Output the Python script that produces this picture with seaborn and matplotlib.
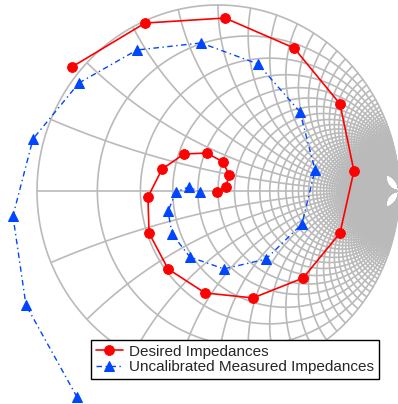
import numpy as np
import pandas as pd
import matplotlib
matplotlib.use('Agg')
import matplotlib.pyplot as plt
import seaborn as sns

desired_re = [-0.807, -0.403, 0.039, 0.420, 0.674, 0.751, 0.674, 0.470, 0.193, -0.072,
              -0.276, -0.381, -0.387, -0.309, -0.188, -0.061, 0.028, 0.061, 0.044, -0.006]
desired_im = [0.667, 0.903, 0.930, 0.769, 0.468, 0.108, -0.226, -0.468, -0.575, -0.548,
              -0.419, -0.226, -0.032, 0.118, 0.199, 0.204, 0.156, 0.086, 0.022, -0.005]

measured_re = [-0.779, -1.061, -1.133, -1.022, -0.768, -0.448, -0.094, 0.221, 0.453, 0.536,
               0.464, 0.265, 0.033, -0.155, -0.254, -0.276, -0.232, -0.160, -0.099]
measured_im = [-1.108, -0.613, -0.134, 0.280, 0.581, 0.758, 0.796, 0.683, 0.425, 0.113,
               -0.177, -0.366, -0.419, -0.355, -0.231, -0.108, -0.005, 0.022, -0.005]

labels = ['Desired Impedances', 'Uncalibrated Measured Impedances']

# smith grid values (normalized resistance / reactance)
grid_r = np.round(np.arange(0.2, 10.01, 0.2), 2)
grid_x = np.round(np.arange(0.2, 14.01, 0.2), 2)

sns.set_style('white')
plt.rcParams['font.family'] = ['Liberation Sans', 'DejaVu Sans']

fig = plt.figure(figsize=(3.98, 4.04), dpi=100)
ax = fig.add_axes([0, 0, 1, 1])

gc = '#bababa'
glw = 1.2

def gamma(z):
    return (z - 1) / (z + 1)

# outer circle and real axis
t = np.linspace(0, 2 * np.pi, 400)
ax.plot(np.cos(t), np.sin(t), color=gc, lw=glw, zorder=1)
ax.plot([-1, 1], [0, 0], color=gc, lw=glw, zorder=1)

# constant resistance circles
for r in grid_r:
    g = gamma(r + 1j * np.concatenate([[-1e6], np.sinh(np.linspace(-12, 12, 800)), [1e6]]))
    ax.plot(g.real, g.imag, color=gc, lw=glw, zorder=1)

# constant reactance arcs
s = np.concatenate([np.sinh(np.linspace(0, 12, 800)), [1e6]])
for x in grid_x:
    for sign in (1, -1):
        g = gamma(s + 1j * sign * x)
        ax.plot(g.real, g.imag, color=gc, lw=glw, zorder=1)

df1 = pd.DataFrame({'re': desired_re, 'im': desired_im})
df2 = pd.DataFrame({'re': measured_re, 'im': measured_im})

sns.lineplot(data=df1, x='re', y='im', sort=False, estimator=None, ax=ax, color='#ff0000', lw=1.2,
             marker='o', markersize=7, markeredgecolor='#ff0000', label=labels[0], zorder=3)
sns.lineplot(data=df2, x='re', y='im', sort=False, estimator=None, ax=ax, color='#0046ff', lw=1.0,
             linestyle=(0, (4, 2.5, 1, 2.5)),
             marker='^', markersize=7.5, markeredgecolor='#0046ff', label=labels[1], zorder=3)

ax.set_xlim(-218 / 181, 180 / 181)
ax.set_ylim(-213 / 186, 191 / 186)
ax.set_xlabel('')
ax.set_ylabel('')
ax.set_xticks([])
ax.set_yticks([])
for sp in ax.spines.values():
    sp.set_visible(False)

leg = ax.legend(loc='lower right', bbox_to_anchor=(0.952, 0.062), borderaxespad=0,
                fontsize=11, fancybox=False, framealpha=1, edgecolor='black',
                borderpad=0.3, labelspacing=0.1, handlelength=1.8, handletextpad=0.4)
leg.get_frame().set_linewidth(1.0)
leg.set_zorder(5)

fig.savefig('out.png', dpi=100)
